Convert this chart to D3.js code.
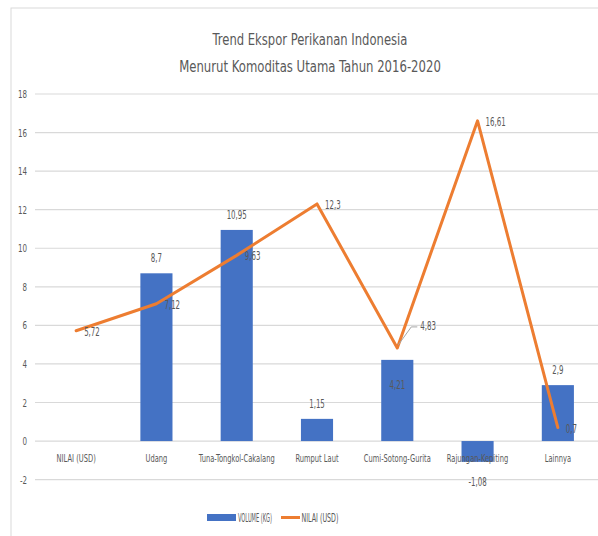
<!DOCTYPE html>
<html><head><meta charset="utf-8">
<script src="https://cdn.jsdelivr.net/npm/d3@7"></script>
<style>
html,body{margin:0;padding:0;background:#fff;}
svg{display:block;}
text{font-family:"DejaVu Sans Condensed","Liberation Sans Narrow","Open Sans",sans-serif;fill:#595959;}
</style></head>
<body>
<svg id="c" width="598" height="536"></svg>
<script>
const categories = ["NILAI (USD)","Udang","Tuna-Tongkol-Cakalang","Rumput Laut","Cumi-Sotong-Gurita","Rajungan-Kepiting","Lainnya"];
const volumeKg = [null, 8.7, 10.95, 1.15, 4.21, -1.08, 2.9];
const nilaiUsd = [5.72, 7.12, 9.63, 12.3, 4.83, 16.61, 0.7];
const yTicks = [-2,0,2,4,6,8,10,12,14,16,18];
const titleLines = ["Trend Ekspor Perikanan Indonesia","Menurut Komoditas Utama Tahun 2016-2020"];
const legendLabels = ["VOLUME (KG)","NILAI (USD)"];

const fmt = v => String(v).replace(".", ",");
const svg = d3.select("#c");
const blue = "#4472C4", orange = "#ED7D31", grid = "#d9d9d9";
const FF = '"DejaVu Sans Condensed","Liberation Sans Narrow",sans-serif';

// text placed at (x,y), horizontally squeezed by factor f
function sqText(parent, x, y, str, size, anchor, f){
  return parent.append("text")
    .attr("transform", `translate(${x},${y}) scale(${f},1)`)
    .attr("font-size", size).attr("text-anchor", anchor).text(str);
}
// squeeze to a target width
function fitText(parent, x, y, str, size, anchor, width){
  const t = parent.append("text").attr("font-size", size).attr("text-anchor", anchor).text(str);
  const w = t.node().getComputedTextLength();
  t.attr("transform", `translate(${x},${y}) scale(${width/w},1)`);
  return t;
}

// frame
svg.append("rect").attr("x",11).attr("y",8).attr("width",620).attr("height",560)
  .attr("fill","#fff").attr("stroke","#d9d9d9").attr("stroke-width",1);

// title
titleLines.forEach((t,i)=> fitText(svg, 310, 45+i*27, t, 15, "middle", i===0?195:262));

const x = d3.scaleBand().domain(categories).range([36,598]).paddingInner(0.6).paddingOuter(0.3);
const y = d3.scaleLinear().domain([-2,18]).range([479.6,94]);
const cx = c => x(c) + x.bandwidth()/2;

// gridlines
svg.append("g").selectAll("line").data(yTicks).join("line")
  .attr("x1",35).attr("x2",598).attr("y1",d=>y(d)).attr("y2",d=>y(d))
  .attr("stroke",grid).attr("stroke-width",1.2);

// y axis labels
const yAxis = svg.append("g").attr("transform","translate(27,0)")
  .call(d3.axisLeft(y).tickValues(yTicks).tickSize(0).tickPadding(0).tickFormat(d=>d));
yAxis.select(".domain").remove();
yAxis.selectAll("text").attr("font-size",11).attr("fill","#595959").attr("font-family",FF)
  .attr("transform","scale(0.72,1)");

// bars
const barData = categories.map((c,i)=>({c,v:volumeKg[i]})).filter(d=>d.v!==null);
svg.append("g").selectAll("rect").data(barData).join("rect")
  .attr("x",d=>x(d.c)).attr("width",x.bandwidth())
  .attr("y",d=>y(Math.max(0,d.v))).attr("height",d=>Math.abs(y(d.v)-y(0)))
  .attr("fill",blue);

// line
const lineData = categories.map((c,i)=>({c,v:nilaiUsd[i]}));
svg.append("path").datum(lineData)
  .attr("d", d3.line().x(d=>cx(d.c)).y(d=>y(d.v)))
  .attr("fill","none").attr("stroke",orange).attr("stroke-width",3).attr("stroke-linejoin","round").attr("stroke-linecap","round");

// category labels
const xAxis = svg.append("g").attr("transform","translate(0,454)")
  .call(d3.axisBottom(x).tickSize(0).tickPadding(0));
xAxis.select(".domain").remove();
xAxis.selectAll("text").attr("font-size",11).attr("fill","#595959").attr("font-family",FF)
  .attr("transform","scale(0.68,1)");

// bar value labels
const lblG = svg.append("g");
barData.forEach(d=>{
  let ty;
  if (d.v < 0) ty = y(d.v) + 24;
  else if (d.c === "Cumi-Sotong-Gurita") ty = y(d.v) + 29;
  else ty = y(d.v) - 11;
  sqText(lblG, cx(d.c), ty, fmt(d.v), 11.5, "middle", 0.68);
});

// line value labels
lineData.forEach(d=>{
  let dx = 8, dy = 5;
  if (d.c === "Cumi-Sotong-Gurita") { dx = 23; dy = -18; }
  sqText(lblG, cx(d.c)+dx, y(d.v)+dy, fmt(d.v), 11.5, "start", 0.68);
});
// leader line for 4,83
{
  const px = cx("Cumi-Sotong-Gurita"), py = y(4.83);
  svg.append("polyline").attr("points",`${px+1},${py-3} ${px+14},${py-21} ${px+20},${py-21}`)
    .attr("fill","none").attr("stroke","#a6a6a6").attr("stroke-width",1);
}

// legend
svg.append("rect").attr("x",207).attr("y",514).attr("width",29).attr("height",7).attr("fill",blue);
fitText(svg, 238, 521.5, legendLabels[0], 11.5, "start", 34);
svg.append("line").attr("x1",281).attr("x2",300).attr("y1",517.5).attr("y2",517.5).attr("stroke",orange).attr("stroke-width",3);
fitText(svg, 301.5, 521.5, legendLabels[1], 11.5, "start", 37);
</script>
</body></html>
